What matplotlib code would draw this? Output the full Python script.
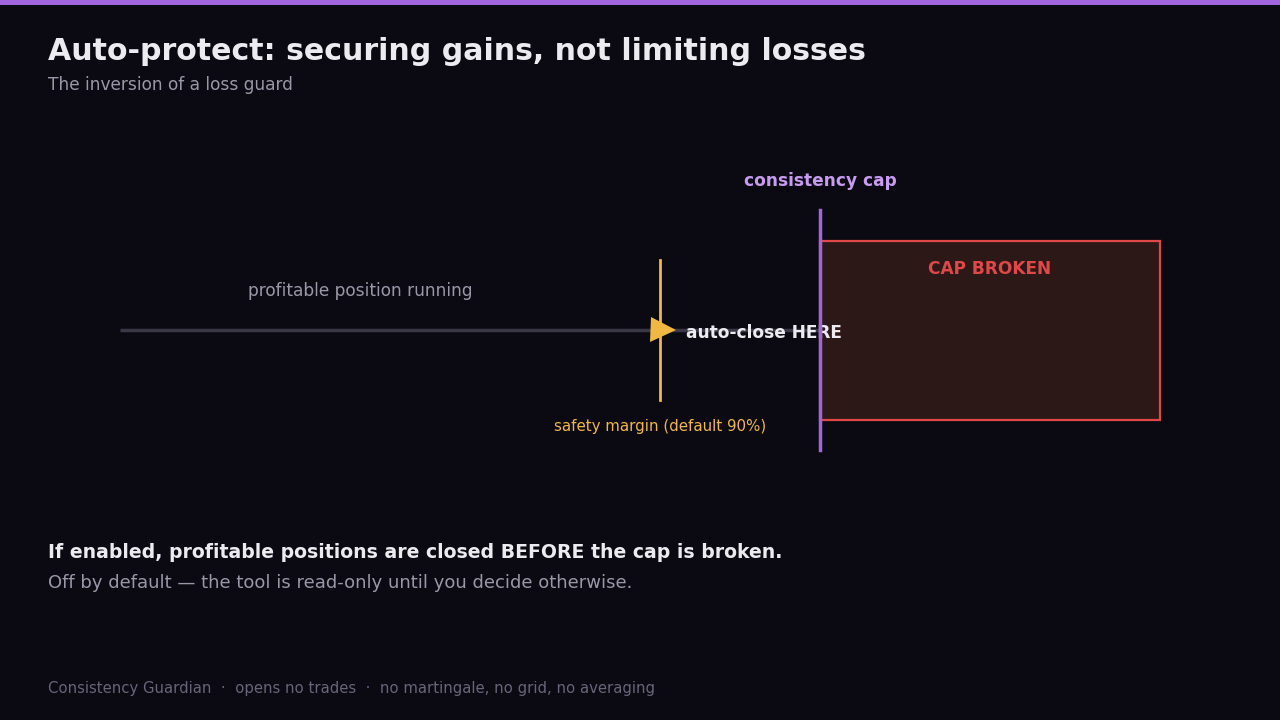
import matplotlib
matplotlib.use("Agg")
import matplotlib.pyplot as plt
from matplotlib.patches import Rectangle

# colours
bg = "#0b0a12"
purple = "#a066dd"
purple_txt = "#c79bf0"
red = "#e04848"
red_fill = "#2d1818"
yellow = "#f0b840"
grey_line = "#3a3846"
grey_txt = "#9a98a8"
white = "#ecebf0"
dim = "#67657a"

# layout values (pixel space of the 1280x720 canvas)
track_x = [120, 820]
track_y = 330
margin_x = 660
margin_y = [260, 400]
cap_x = 820
cap_y = [210, 450]
broken_x = [820, 1160]
broken_y = [241, 420]

title = "Auto-protect: securing gains, not limiting losses"
subtitle = "The inversion of a loss guard"
line1 = "If enabled, profitable positions are closed BEFORE the cap is broken."
line2 = "Off by default \u2014 the tool is read-only until you decide otherwise."
footer = "Consistency Guardian  \u00b7  opens no trades  \u00b7  no martingale, no grid, no averaging"

plt.rcParams['font.family'] = ['DejaVu Sans']
fig = plt.figure(figsize=(12.8, 7.2), dpi=100, facecolor=bg)
ax = fig.add_axes([0, 0, 1, 1])
ax.set_facecolor(bg)
ax.set_xlim(0, 1280)
ax.set_ylim(720, 0)
ax.axis("off")

# top bar
ax.add_patch(Rectangle((0, 0), 1280, 5, color=purple, lw=0))

ax.text(48, 51, title, fontsize=21.6, fontweight="bold", color=white, va="center")
ax.text(48, 85, subtitle, fontsize=12.24, color=grey_txt, va="center")

# red zone
ax.add_patch(Rectangle((broken_x[0], broken_y[0]), broken_x[1] - broken_x[0],
                       broken_y[1] - broken_y[0], facecolor=red_fill,
                       edgecolor=red, lw=1.6, zorder=1))
ax.text((broken_x[0] + broken_x[1]) / 2, 269, "CAP BROKEN", fontsize=12.24,
        fontweight="bold", color=red, ha="center", va="center")

# track
ax.plot(track_x, [track_y, track_y], color=grey_line, lw=2.5, zorder=2,
        solid_capstyle="butt")
ax.text(360, 291, "profitable position running", fontsize=12.24, color=grey_txt,
        ha="center", va="center")

# margin line + marker
ax.plot([margin_x, margin_x], margin_y, color=yellow, lw=2, zorder=3)
ax.plot([margin_x + 3], [track_y], marker=">", markersize=18, color=yellow,
        markeredgewidth=0, zorder=4)
ax.text(686, 333, "auto-close HERE", fontsize=12.24, fontweight="bold",
        color=white, ha="left", va="center", zorder=5)
ax.text(margin_x, 427, "safety margin (default 90%)", fontsize=10.8,
        color=yellow, ha="center", va="center")

# cap line
ax.plot([cap_x, cap_x], cap_y, color=purple, lw=2.5, zorder=6)
ax.text(cap_x, 181, "consistency cap", fontsize=12.24, fontweight="bold",
        color=purple_txt, ha="center", va="center")

ax.text(48, 553, line1, fontsize=13.6, fontweight="bold", color=white, va="center")
ax.text(48, 583, line2, fontsize=12.96, color=grey_txt, va="center")
ax.text(48, 688, footer, fontsize=10.75, color=dim, va="center")

fig.savefig("out.png", dpi=100, facecolor=bg)
